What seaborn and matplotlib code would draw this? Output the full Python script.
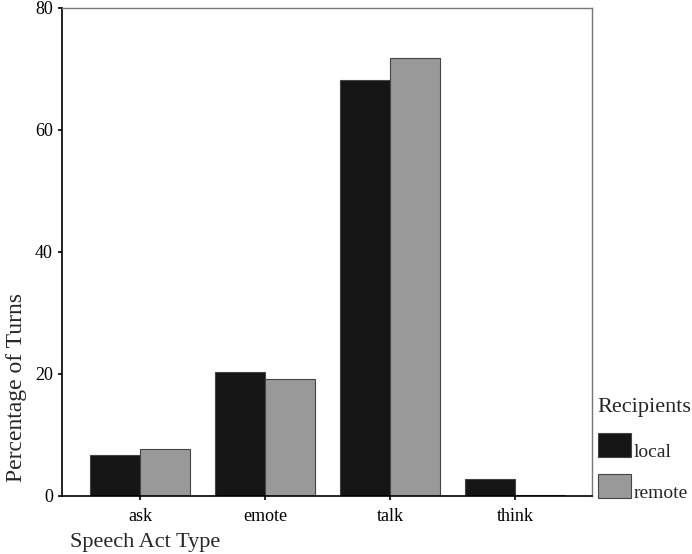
import pandas as pd
import matplotlib
matplotlib.use("Agg")
import matplotlib.pyplot as plt
from matplotlib.patches import Rectangle
import seaborn as sns

# values (percent of turns)
speech_acts = ["ask", "emote", "talk", "think"]
local_pct = [6.7, 20.4, 68.2, 2.85]
remote_pct = [7.75, 19.2, 71.75, 0.2]
recipients = ["local", "remote"]
bar_colors = {"local": "#151515", "remote": "#999999"}

df = pd.DataFrame({
    "act": speech_acts * 2,
    "recipient": ["local"] * len(speech_acts) + ["remote"] * len(speech_acts),
    "pct": local_pct + remote_pct,
})

sns.set_style("white")
plt.rcParams["font.family"] = ["Liberation Serif", "DejaVu Serif"]

fig = plt.figure(figsize=(6.92, 5.54), dpi=100)
ax = fig.add_axes([0.0896, 0.1047, 0.7659, 0.8809])

sns.barplot(data=df, x="act", y="pct", hue="recipient", hue_order=recipients,
            palette=bar_colors, edgecolor="#444444", linewidth=0.8,
            width=0.8, saturation=1, ax=ax)

ax.set_ylim(0, 80)
ax.set_xlim(-0.624, 3.616)
ax.set_yticks([0, 20, 40, 60, 80])
ax.tick_params(axis="both", direction="out", length=3, width=1.2,
               labelsize=13, colors="black", left=True, bottom=True)
ax.tick_params(axis="x", pad=6)

for side in ["left", "bottom"]:
    ax.spines[side].set_color("black")
    ax.spines[side].set_linewidth(1.2)
for side in ["top", "right"]:
    ax.spines[side].set_color("#777777")
    ax.spines[side].set_linewidth(1.0)
    ax.spines[side].set_visible(True)

ax.set_ylabel("Percentage of Turns", fontsize=17)
ax.yaxis.set_label_coords(-0.066, 0.223)
ax.set_xlabel("Speech Act Type", fontsize=16, ha="left")
ax.xaxis.set_label_coords(0.015, -0.076)

leg = ax.legend(title="Recipients", loc="upper left",
                bbox_to_anchor=(1.011, 0.201), frameon=False,
                fontsize=14, title_fontsize=16, handlelength=1.7,
                handleheight=1.24, labelspacing=0.64, handletextpad=0.15,
                borderaxespad=0, borderpad=0, alignment="left")
# a little more room under the title
leg._legend_box.sep += 4 * 72 / 100

# sit the label baselines on the bottom edge of the swatches
for col in leg._legend_handle_box.get_children():
    for item in col.get_children():
        da = item.get_children()[0]
        for ch in da.get_children():
            if isinstance(ch, Rectangle):
                ch.set_y(0)
                ch.set_height(24 * 72 / 100)
        da.height = 24 * 72 / 100
        da.ydescent = 0

fig.savefig("out.png", dpi=100)
